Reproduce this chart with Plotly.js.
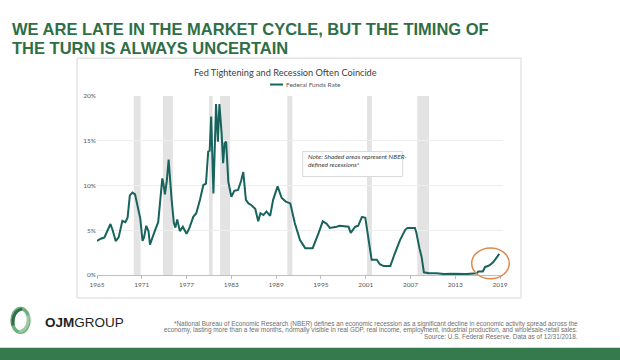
<!DOCTYPE html>
<html>
<head>
<meta charset="utf-8">
<script src="https://cdn.plot.ly/plotly-3.0.1.min.js"></script>
<style>html,body{margin:0;padding:0;background:#fff;}#chart{width:620px;height:360px;}</style>
</head>
<body>
<div id="chart"></div>
<script>
// ---- data ----
const rateYears = [1965.0,1965.5,1966.0,1966.4,1966.8,1967.1,1967.5,1967.9,1968.4,1968.8,1969.1,1969.4,1969.75,1970.1,1970.5,1970.8,1971.1,1971.3,1971.6,1971.9,1972.1,1972.5,1972.8,1973.2,1973.6,1973.75,1973.9,1974.1,1974.35,1974.6,1975.0,1975.3,1975.5,1975.75,1976.1,1976.5,1977.0,1977.4,1977.9,1978.3,1978.8,1979.25,1979.6,1979.9,1980.1,1980.3,1980.6,1980.95,1981.2,1981.4,1981.7,1981.9,1982.1,1982.3,1982.6,1983.0,1983.4,1983.9,1984.3,1984.6,1984.95,1985.3,1985.7,1986.2,1986.6,1986.9,1987.3,1987.7,1988.2,1988.6,1989.2,1989.75,1990.3,1990.9,1991.5,1992.2,1992.9,1993.9,1994.7,1995.25,1995.8,1996.2,1997.1,1997.5,1998.7,1999.0,1999.6,2000.0,2000.5,2000.95,2001.4,2001.8,2002.5,2002.9,2003.4,2004.3,2004.9,2005.6,2006.3,2006.6,2007.6,2007.8,2008.2,2008.5,2008.8,2009.5,2010.5,2011.5,2012.5,2013.5,2014.5,2015.9,2016.1,2016.7,2017.0,2017.4,2017.7,2018.1,2018.5,2018.9];
const rateValues = [3.8,4.05,4.2,4.9,5.7,5.0,3.8,4.2,6.05,5.9,6.4,8.9,9.2,9.0,7.6,6.3,3.8,4.2,5.5,4.9,3.4,4.5,5.05,5.9,9.5,10.8,10.2,9.0,10.5,12.9,8.4,5.8,5.3,6.2,4.9,5.4,4.6,5.3,6.5,6.9,8.4,10.05,10.2,13.8,13.9,17.7,9.1,19.1,14.9,19.1,15.8,12.5,14.7,14.9,10.4,8.75,9.4,9.5,10.5,11.5,8.4,8.0,7.8,7.4,6.0,6.9,6.7,7.1,6.6,8.4,9.9,8.6,8.2,8.0,5.8,3.9,3.0,3.0,4.7,6.0,5.7,5.25,5.4,5.5,5.4,4.7,5.4,5.5,6.5,6.4,3.9,1.7,1.7,1.2,1.0,1.0,2.4,3.9,5.05,5.25,5.25,4.7,3.0,2.0,0.3,0.2,0.2,0.1,0.15,0.1,0.1,0.2,0.4,0.4,0.9,1.0,1.15,1.45,1.9,2.35];
const recessionStarts = [1969.92,1973.83,1980.0,1981.5,1990.5,2001.17,2007.92];
const recessionEnds   = [1970.83,1975.17,1980.5,1982.83,1991.17,2001.83,2009.5];
const xTickYears = [1965,1971,1977,1983,1989,1995,2001,2007,2013,2019];
const yTicks = [0,5,10,15,20];
const yTickLabels = ['0%','5%','10%','15%','20%'];
const seriesName = 'Federal Funds Rate';

// ---- pixel helpers for decoration placement ----
const L = 97, R = 503, T = 96, B = 275.5;
const px = x => (x - L) / (R - L);
const py = y => (B - y) / (B - T);

const shapes = [];
recessionStarts.forEach((s, i) => {
  shapes.push({type:'rect', xref:'x', yref:'y', x0:s, x1:recessionEnds[i], y0:0, y1:20,
    fillcolor:'#e3e3e3', line:{width:0}, layer:'below'});
});
// chart frame
shapes.push({type:'rect', xref:'paper', yref:'paper', x0:px(77), x1:px(521), y0:py(58), y1:py(298.5),
  line:{color:'#d6d6d6', width:1}, fillcolor:'rgba(0,0,0,0)', layer:'below'});
// green band
shapes.push({type:'rect', xref:'paper', yref:'paper', x0:px(0), x1:px(620), y0:py(348.5), y1:py(361),
  line:{width:0}, fillcolor:'#347a4c'});
// legend sample
shapes.push({type:'line', xref:'paper', yref:'paper', x0:px(270), x1:px(283), y0:py(84.5), y1:py(84.5),
  line:{color:'#17635d', width:2}});
// note box
shapes.push({type:'rect', xref:'paper', yref:'paper', x0:px(302.7), x1:px(402.7), y0:py(151.7), y1:py(176.7),
  line:{color:'#d9d9d9', width:1}, fillcolor:'#ffffff'});
// orange highlight circle
shapes.push({type:'circle', xref:'paper', yref:'paper', x0:px(471.7), x1:px(509.3), y0:py(248.3), y1:py(279.3),
  line:{color:'#dd8a4f', width:1.5}});
// logo ring
shapes.push({type:'circle', xref:'paper', yref:'paper', x0:px(12), x1:px(29), y0:py(309), y1:py(333),
  line:{color:'#6fae7f', width:3.5}});
shapes.push({type:'path', xref:'paper', yref:'paper',
  path:`M ${px(13)} ${py(326)} Q ${px(12)} ${py(312)} ${px(22)} ${py(309.5)}`,
  line:{color:'#2f6f47', width:3}});
shapes.push({type:'path', xref:'paper', yref:'paper',
  path:`M ${px(28)} ${py(316)} Q ${px(29.5)} ${py(330)} ${px(19)} ${py(332.5)}`,
  line:{color:'#9ccaa5', width:3}});

const ann = (x, y, text, opts) => Object.assign({xref:'paper', yref:'paper', x:px(x), y:py(y), text:text,
  showarrow:false, xanchor:'left', yanchor:'middle'}, opts || {});
const head = {family:'Liberation Sans, Arial, sans-serif', size:16.5, color:'#2f6e46', weight:700};
const foot = {family:'Liberation Sans, Arial, sans-serif', size:6.4, color:'#6e6e6e'};
const note = {family:'Lato, sans-serif', size:6.5, color:'#404040', style:'italic'};

const annotations = [
  ann(10, 28.5, 'WE ARE LATE IN THE MARKET CYCLE, BUT THE TIMING OF', {font:head}),
  ann(10, 47.5, 'THE TURN IS ALWAYS UNCERTAIN', {font:head}),
  ann(285, 72.3, 'Fed Tightening and Recession Often Coincide', {xanchor:'center',
    font:{family:'Lato, sans-serif', size:9.2, color:'#404040'}}),
  ann(283.5, 84.5, seriesName, {font:{family:'Lato, sans-serif', size:6.5, color:'#595959'}}),
  ann(306, 157, 'Note: Shaded areas represent NBER-', {font:note}),
  ann(306, 164.5, 'defined recessions*', {font:note}),
  ann(43, 323.6, '<b>OJM</b>GROUP', {font:{family:'Liberation Sans, Arial, sans-serif', size:13.5, color:'#231f20'}}),
  ann(580, 324.4, '*National Bureau of Economic Research (NBER) defines an economic recession as a significant decline in economic activity spread across the', {xanchor:'right', font:foot}),
  ann(580, 331, 'economy, lasting more than a few months, normally visible in real GDP, real income, employment, industrial production, and wholesale-retail sales.', {xanchor:'right', font:foot}),
  ann(580, 337.4, 'Source: U.S. Federal Reserve. Data as of 12/31/2018.', {xanchor:'right', font:foot})
];

const trace = {x:rateYears, y:rateValues, type:'scatter', mode:'lines', name:seriesName,
  line:{color:'#17635d', width:2}, showlegend:false, hoverinfo:'skip'};

const layout = {
  width:620, height:360,
  margin:{l:L, r:620-R, t:T, b:360-B, pad:0},
  paper_bgcolor:'#ffffff', plot_bgcolor:'#ffffff',
  showlegend:false,
  xaxis:{range:[1965,2019.4], tickmode:'array', tickvals:xTickYears, ticktext:xTickYears.map(String),
    showgrid:false, zeroline:false, showline:true, linecolor:'#bfbfbf', linewidth:1,
    ticks:'outside', ticklen:3, tickcolor:'#bfbfbf',
    tickfont:{family:'Lato, sans-serif', size:6.5, color:'#595959'}, fixedrange:true},
  yaxis:{range:[0,20], tickmode:'array', tickvals:yTicks, ticktext:yTickLabels, showgrid:true, gridcolor:'#eeeeee',
    zeroline:false, showline:false, ticks:'',
    tickfont:{family:'Lato, sans-serif', size:6.5, color:'#595959'}, fixedrange:true},
  shapes:shapes,
  annotations:annotations
};

Plotly.newPlot('chart', [trace], layout, {displayModeBar:false, staticPlot:true});
</script>
</body>
</html>
